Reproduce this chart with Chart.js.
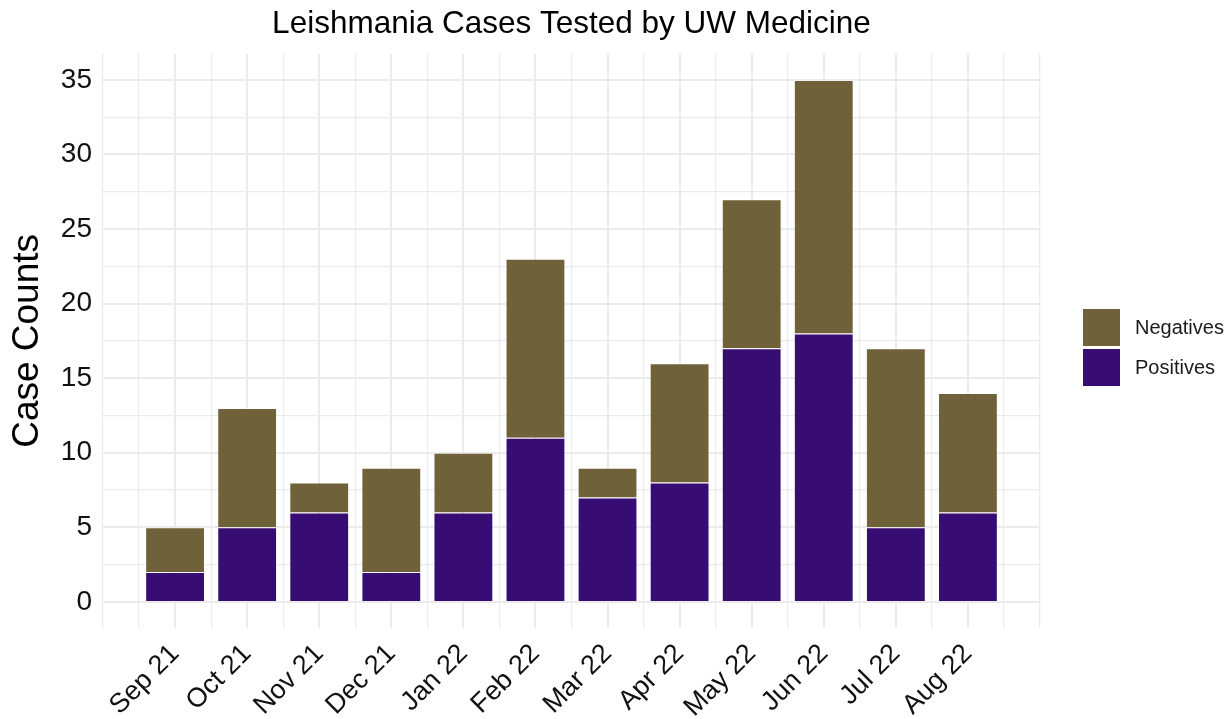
<!DOCTYPE html>
<html>
<head>
<meta charset="utf-8">
<script src="https://cdn.jsdelivr.net/npm/chart.js@4.4.1/dist/chart.umd.min.js"></script>
<style>
    html, body { margin: 0; padding: 0; background: #ffffff; }
    #wrap { width: 1229px; height: 719px; position: relative; }
</style>
</head>
<body>
<div id="wrap"><canvas id="casesChart"></canvas></div>
<script>
// Leishmania cases chart

const months = ['Sep 21', 'Oct 21', 'Nov 21', 'Dec 21', 'Jan 22', 'Feb 22',
    'Mar 22', 'Apr 22', 'May 22', 'Jun 22', 'Jul 22', 'Aug 22'];
const positives = [2, 5, 6, 2, 6, 11, 7, 8, 17, 18, 5, 6];
const negatives = [3, 8, 2, 7, 4, 12, 2, 8, 10, 17, 12, 8];
const yTicks = [0, 2.5, 5, 7.5, 10, 12.5, 15, 17.5, 20, 22.5, 25, 27.5, 30, 32.5, 35];

const FONT = "'Liberation Sans', Arial, sans-serif";
const GRID = '#ebebeb';

function toPoints(values) {
    return values.map(function (v, i) { return { x: i + 1, y: v }; });
}

// ggplot-like legend drawn at the right
const sideLegend = {
    id: 'sideLegend',
    afterDraw: function (chart) {
        const ctx = chart.ctx;
        const sets = chart.data.datasets.slice().reverse();
        ctx.save();
        ctx.font = '20px ' + FONT;
        ctx.textBaseline = 'middle';
        ctx.textAlign = 'left';
        sets.forEach(function (ds, i) {
            const top = 309 + i * 40;
            ctx.fillStyle = ds.backgroundColor;
            ctx.fillRect(1083, top, 37, 37);
            ctx.fillStyle = '#1a1a1a';
            ctx.fillText(ds.label, 1135, top + 19);
        });
        ctx.restore();
    }
};

function initCasesChart() {
    const ctx = document.getElementById('casesChart');
    if (!ctx) return;

    // ticks sit every half month, so the bar share is taken of half a step
    const data = {
        datasets: [
            {
                label: 'Positives',
                data: toPoints(positives),
                backgroundColor: '#370c73',
                borderColor: 'rgba(255, 255, 255, 0.35)',
                borderWidth: 1,
                categoryPercentage: 1,
                barPercentage: 1.66
            },
            {
                label: 'Negatives',
                data: toPoints(negatives),
                backgroundColor: '#6f613a',
                borderColor: 'rgba(255, 255, 255, 0.35)',
                borderWidth: 1,
                categoryPercentage: 1,
                barPercentage: 1.66
            }
        ]
    };

    new Chart(ctx, {
        type: 'bar',
        data: data,
        plugins: [sideLegend],
        options: {
            responsive: true,
            maintainAspectRatio: false,
            animation: false,
            layout: { padding: { left: 0, right: 189, top: 0, bottom: 0 } },
            plugins: {
                legend: { display: false },
                tooltip: { enabled: false },
                title: {
                    display: true,
                    fullSize: false,
                    text: 'Leishmania Cases Tested by UW Medicine',
                    color: '#000000',
                    font: { size: 31.5, family: FONT, weight: 'normal', lineHeight: 1.2 },
                    padding: { top: 5, bottom: 11 }
                }
            },
            scales: {
                x: {
                    type: 'linear',
                    stacked: true,
                    offset: false,
                    min: 0,
                    max: 13,
                    border: { display: false },
                    grid: {
                        color: GRID,
                        drawTicks: false,
                        offset: false,
                        lineWidth: function (c) {
                            const v = c.tick ? c.tick.value : 0;
                            return (v >= 1 && v <= 12 && Number.isInteger(v)) ? 2 : 1.2;
                        }
                    },
                    afterBuildTicks: function (scale) {
                        const t = [];
                        for (let i = 0; i <= 26; i++) t.push({ value: i / 2 });
                        scale.ticks = t;
                    },
                    afterFit: function (scale) { scale.height = 91; },
                    ticks: {
                        autoSkip: false,
                        maxRotation: 45,
                        minRotation: 45,
                        padding: 10,
                        color: '#111111',
                        font: { size: 27, family: FONT },
                        callback: function (value) {
                            return (Number.isInteger(value) && value >= 1 && value <= 12) ? months[value - 1] : '';
                        }
                    }
                },
                y: {
                    stacked: true,
                    min: -1.75,
                    max: 36.75,
                    border: { display: false },
                    grid: {
                        color: GRID,
                        drawTicks: false,
                        lineWidth: function (c) {
                            const v = c.tick ? c.tick.value : 0;
                            return (v % 5 === 0) ? 2 : 1.2;
                        }
                    },
                    afterBuildTicks: function (scale) {
                        scale.ticks = yTicks.map(function (v) { return { value: v }; });
                    },
                    afterFit: function (scale) { scale.width = 103; },
                    title: {
                        display: true,
                        text: 'Case Counts',
                        color: '#000000',
                        font: { size: 37, family: FONT, lineHeight: 1.2 },
                        padding: { top: 6, bottom: 0 }
                    },
                    ticks: {
                        padding: 11,
                        color: '#111111',
                        font: { size: 28, family: FONT },
                        callback: function (value) {
                            return (value % 5 === 0) ? String(value) : '';
                        }
                    }
                }
            }
        }
    });
}

if (document.readyState === 'loading') {
    document.addEventListener('DOMContentLoaded', initCasesChart);
} else {
    initCasesChart();
}
</script>
</body>
</html>
